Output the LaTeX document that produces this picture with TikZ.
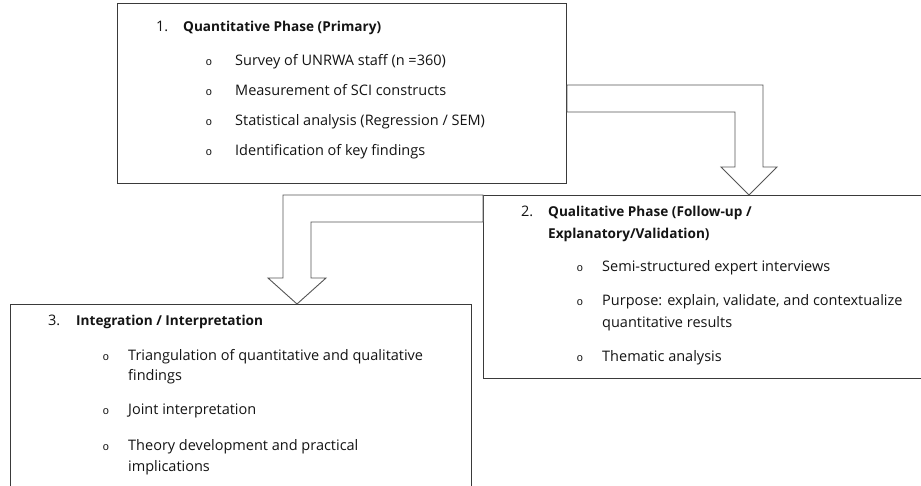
\documentclass[tikz,border=0pt]{standalone}
\usepackage{fontspec}
\setmainfont{Open Sans}
\newfontfamily\bulfont{Liberation Mono}
\usetikzlibrary{calc}
\definecolor{boxline}{HTML}{3A3A3A}
\definecolor{arrline}{HTML}{555555}
\definecolor{txt}{HTML}{141414}
\begin{document}
\begin{tikzpicture}[x=1pt,y=-1pt,
  box/.style={draw=boxline, line width=1pt, fill=white, inner sep=0pt, anchor=north west},
  txtnode/.style={anchor=base west, inner sep=0pt, text=txt, font=\fontsize{14.5}{17}\selectfont},
  hdnode/.style={anchor=base west, inner sep=0pt, text=txt, font=\fontsize{13.6}{16}\selectfont\bfseries},
  bulnode/.style={anchor=base, inner sep=0pt, text=txt, font=\bulfont\fontsize{11}{13}\selectfont},
  blockarrow/.style={draw=arrline, line width=0.9pt, fill=white, line join=miter}]
\useasboundingbox (0,0) rectangle (921,485);
\clip (0,0) rectangle (921,485);
\fill[white] (0,0) rectangle (921,485);

% boxes
\node[box, minimum width=449pt, minimum height=180pt] (b1) at (117,3) {};
\node[box, minimum width=460pt, minimum height=183pt] (b2) at (483,195) {};
\node[box, minimum width=461.5pt, minimum height=200pt] (b3) at (9.5,304) {};

% arrows
\draw[blockarrow] ($(b1.north east)+(0,82)$) -- (763,85) -- (763,167) -- (777,167)
  -- ($(b2.north west)+(266,0)$) -- (721,167) -- (735,167) -- (735,112)
  -- ($(b1.north east)+(0,109)$) -- cycle;
\draw[blockarrow] (b2.north west) -- (283,195) -- (283,278) -- (268,278)
  -- ($(b3.north west)+(287.5,0)$) -- (326,278) -- (311,278) -- (311,222)
  -- ($(b2.north west)+(0,27)$) -- cycle;

% box 1 text
\node[txtnode] (n1) at (156,31) {1.};
\node[hdnode] (h1) at (183,31) {Quantitative Phase (Primary)};
\node[bulnode] (p11) at (209,65.5) {o};
\node[txtnode] (i11) at (235,65.5) {Survey of UNRWA staff (n =360)};
\node[bulnode] (p12) at (209,95.5) {o};
\node[txtnode] (i12) at (235,95.5) {Measurement of SCI constructs};
\node[bulnode] (p13) at (209,125.5) {o};
\node[txtnode] (i13) at (235,125.5) {Statistical analysis (Regression / SEM)};
\node[bulnode] (p14) at (209,155.5) {o};
\node[txtnode] (i14) at (235,155.5) {Identification of key findings};

% box 2 text
\node[txtnode] (n2) at (521,216.5) {2.};
\node[hdnode] (h2a) at (548,216.5) {Qualitative Phase (Follow-up /};
\node[hdnode] (h2b) at (548,238) {Explanatory/Validation)};
\node[bulnode] (p21) at (580,271.5) {o};
\node[txtnode] (i21) at (602,271.5) {Semi-structured expert interviews};
\node[bulnode] (p22) at (580,305.5) {o};
\node[txtnode] (i22) at (602,305.5) {Purpose: explain, validate, and contextualize};
\node[txtnode] (i22b) at (602,327.5) {quantitative results};
\node[bulnode] (p23) at (580,361.5) {o};
\node[txtnode] (i23) at (602,361.5) {Thematic analysis};

% box 3 text
\node[txtnode] (n3) at (48,325.7) {3.};
\node[hdnode] (h3) at (76,325.7) {Integration / Interpretation};
\node[bulnode] (p31) at (106,360) {o};
\node[txtnode] (i31) at (128,360) {Triangulation of quantitative and qualitative};
\node[txtnode] (i31b) at (128,380) {findings};
\node[bulnode] (p32) at (106,414) {o};
\node[txtnode] (i32) at (128,414) {Joint interpretation};
\node[bulnode] (p33) at (106,450) {o};
\node[txtnode] (i33) at (128,450) {Theory development and practical};
\node[txtnode] (i33b) at (128,471) {implications};
\end{tikzpicture}
\end{document}
